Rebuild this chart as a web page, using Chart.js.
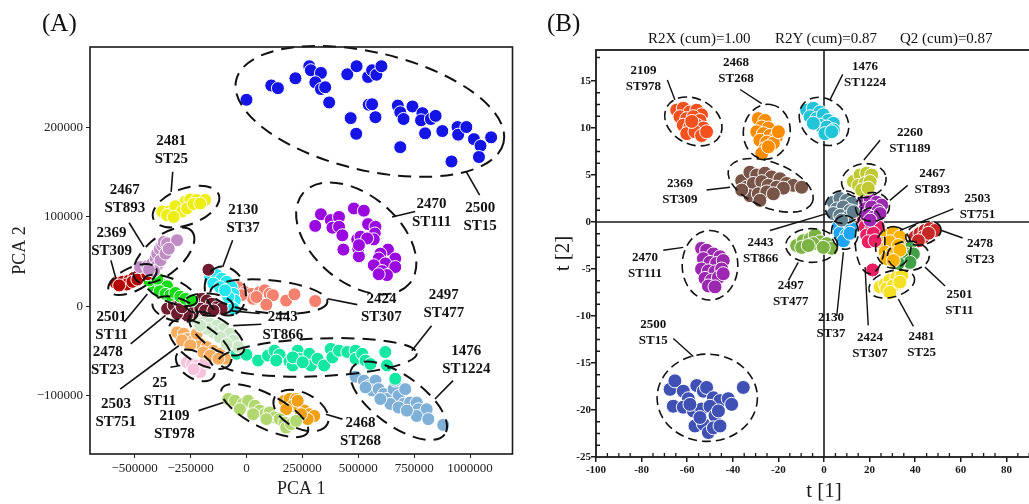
<!DOCTYPE html>
<html>
<head>
<meta charset="utf-8">
<script src="https://cdn.jsdelivr.net/npm/chart.js@4.4.1/dist/chart.umd.min.js"></script>
<style>
html, body { margin: 0; padding: 0; background: #fff; overflow: hidden; width: 1029px; height: 504px; }
.box { position: absolute; top: 0; }
.txt { position: absolute; font-family: "Liberation Serif", serif; color: #111; white-space: nowrap; }
.panel { font-size: 25px; line-height: 28px; }
.head { font-size: 15px; line-height: 18px; top: 29px; }
</style>
</head>
<body>
<div class="box" style="left:0;width:520px;height:504px"><canvas id="chartA" width="520" height="504"></canvas></div>
<div class="box" style="left:520px;width:560px;height:504px"><canvas id="chartB" width="560" height="504"></canvas></div>
<div class="txt panel" style="left:42px;top:9px">(A)</div>
<div class="txt panel" style="left:547px;top:9px">(B)</div>
<div class="txt head" style="left:648px">R2X (cum)=1.00</div>
<div class="txt head" style="left:775px">R2Y (cum)=0.87</div>
<div class="txt head" style="left:900px">Q2 (cum)=0.87</div>
<script>
// ---------- panel A: PCA scores (x = PCA 1, y = PCA 2) ----------
let pcaST15 = [[0,231000],[111000,247000],[140500,244000],[219000,255000],[281000,268500],[288000,264000],[333000,261000],[308000,250500],[333000,243000],[352000,245000],[370000,228000],[451000,259500],[492500,268500],[544000,256500],[562000,264000],[581000,259000],[603500,268500],[466000,210500],[491000,193000],[547000,225500],[562000,226000],[577000,211500],[677000,224500],[688000,217000],[702500,209500],[688000,178000],[742500,223500],[787000,216000],[781000,208000],[799000,193500],[825000,209500],[846000,213000],[876000,196000],[944000,200500],[947000,192000],[983500,200500],[1017500,187000],[1047000,179500],[1040000,167000],[917000,162000],[1094500,189000]];
let pcaST111 = [[333000,103000],[307500,90000],[377000,96500],[414000,100000],[384500,88000],[414000,89000],[429000,79500],[480500,109500],[525000,107000],[433500,63500],[500000,64500],[495500,75000],[510000,78000],[544000,92000],[577000,89000],[574000,81500],[569500,75000],[503000,56000],[540000,76000],[633000,63500],[599000,59000],[665500,53500],[591500,53500],[621000,48000],[569500,46000],[665500,44000],[606500,39500],[628500,35000],[591500,36000],[503000,68500]];
let pcaST25 = [[-377000,106000],[-340000,107000],[-310500,104000],[-296000,113000],[-273500,117000],[-251500,119500],[-222000,119000],[-185000,119000],[-318000,112000],[-288500,106000],[-266000,109500],[-236500,114500],[-355000,102000],[-325500,100000],[-207000,115000]];
let pcaST893 = [[-476000,44000],[-443500,45000],[-421500,48000],[-406500,53500],[-399000,59000],[-387500,64500],[-377000,68500],[-370000,72000],[-355000,70500],[-310500,74000],[-399000,46000],[-384500,51500],[-362500,59000],[-347500,64500],[-414000,39500],[-436000,41000]];
let pcaST309 = [[-584000,26000],[-554500,27500],[-525000,29000],[-503000,32000],[-481000,35000],[-458500,38500],[-535500,24500],[-510000,27500],[-488000,30000],[-443500,36000],[-569500,23500]];
let pcaST11a = [[-414000,23500],[-384500,25500],[-355000,22500],[-387500,17000],[-362500,14000],[-340000,12500],[-318000,15000],[-296000,11000],[-273500,8500],[-244000,6500],[-436000,29000],[-399000,31000]];
let pcaST23 = [[-355000,-2500],[-325500,1000],[-296000,3000],[-273500,-4500],[-251500,-1000],[-222000,5000],[-199500,8500],[-177500,6500],[-155500,3000],[-133000,-1000],[-111000,-2500],[-236500,-6500],[-207000,-2500],[-266000,-10000],[-310500,-8000],[-288500,-1000],[-185000,-4500],[-148000,-4500],[-170000,41000]];
let pcaST37 = [[-162500,33000],[-133000,35000],[-111000,31000],[-89000,27500],[-66500,21500],[-59000,14000],[-52000,6500],[-74000,1000],[-59000,-2500],[-148000,25500],[-118500,21500],[-81500,10500],[-96000,18000]];
let pcaST307 = [[-111000,18000],[-74000,20000],[-37000,21500],[-7500,16000],[22000,14000],[29500,8500],[59000,16000],[81500,18000],[103500,14000],[118500,12500],[89000,2000],[177500,6500],[214500,13500],[307500,6000],[-59000,10500],[-22000,12500],[44500,10500]];
let pcaST866 = [[-222000,-15500],[-192500,-17500],[-162500,-19500],[-133000,-21500],[-103500,-25000],[-74000,-30500],[-59000,-38000],[-37000,-45500],[-148000,-29000],[-118500,-34500],[-89000,-42000],[-177500,-25000],[-207000,-21500]];
let pcaST751 = [[-310500,-29000],[-281000,-30500],[-266000,-36500],[-236500,-38000],[-207000,-42000],[-177500,-45500],[-148000,-49500],[-118500,-53000],[-96000,-58500],[-288500,-38000],[-251500,-43500],[-192500,-51500],[-162500,-55000],[-125500,-58500],[-222000,-30500]];
let pcaST11b = [[-266000,-62500],[-244000,-64500],[-222000,-66000],[-199500,-68000],[-207000,-73500],[-236500,-70000],[-185000,-62500]];
let pcaST477 = [[-44500,-53000],[0,-54000],[52000,-60500],[96000,-55000],[125500,-49500],[148000,-54000],[133000,-60500],[192500,-61500],[207000,-66000],[229000,-49500],[236500,-58500],[281000,-53000],[288500,-66000],[318000,-58500],[347500,-66000],[377000,-47500],[384500,-57000],[414000,-49500],[451000,-51000],[488000,-49500],[488000,-58500],[517500,-53000],[532500,-60500],[554500,-64500],[621000,-51000],[628500,-66000],[665500,-81000],[207000,-57000],[251500,-62500]];
let pcaST1224 = [[488000,-78500],[525000,-83000],[547000,-88500],[577000,-83000],[562000,-94000],[591500,-92500],[614000,-98000],[628500,-103500],[658000,-92500],[665500,-83000],[680500,-100000],[710000,-92500],[702500,-109000],[732000,-107500],[761500,-107500],[769000,-115000],[806000,-115000],[761500,-122500],[813500,-126000],[880000,-132500],[532500,-90500],[643500,-109000],[680500,-113000],[717500,-116500],[599000,-103500]];
let pcaST978 = [[-81500,-103500],[-52000,-105500],[-15000,-109000],[7500,-105500],[37000,-111000],[59000,-116500],[81500,-120500],[103500,-118500],[125500,-124000],[148000,-126000],[170000,-130000],[177500,-135500],[199500,-131500],[222000,-128000],[-29500,-115000],[29500,-120500],[89000,-126000]];
let pcaST268 = [[170000,-105500],[192500,-103500],[222000,-103500],[207000,-111000],[236500,-113000],[259000,-116500],[281000,-120500],[303000,-122500],[273500,-126000],[177500,-115000],[244000,-120500],[229000,-105500]];

let pcaGroups = ['2500','2470','2481','2467','2369','2501','2478','2130','2424','2443','2503','25','2497','1476','2109','2468'];
let pcaSeries = [pcaST15, pcaST111, pcaST25, pcaST893, pcaST309, pcaST11a, pcaST23, pcaST37, pcaST307, pcaST866, pcaST751, pcaST11b, pcaST477, pcaST1224, pcaST978, pcaST268];
let pcaColors = ['#1414e6','#9a0ae0','#eeee12','#c08cc6','#b40404','#16de16','#6e1c2e','#22e6f0','#f4806e','#cbe7c6','#f8ac5e','#f7c2dc','#12e8a2','#7eb0d8','#b0d86e','#f0a012'];
let pcaXTicks = [-500000, -250000, 0, 250000, 500000, 750000, 1000000];
let pcaYTicks = [-100000, 0, 100000, 200000];

// ellipses: centre x, centre y, end of long axis x, y, short/long ratio
let pcaRings = [[552000,218000,1150000,183000,0.43],[491000,76000,729000,25400,0.62],[-270500,111500,-124000,125000,0.52],[-370000,57000,-244000,84000,0.5],[-510000,30000,-404000,42500,0.45],[-340000,18000,-222000,5000,0.4],[-320000,-3000,-220000,-10000,0.5],[-170000,2000,-60000,0,0.45],[-94700,17200,-56000,-9000,0.8],[100500,11000,362000,5000,0.28],[-133000,-30500,-15000,-51000,0.45],[-207000,-42000,-74000,-64500,0.5],[-229000,-66000,-148000,-79000,0.6],[318000,-57000,762000,-52500,0.19],[680500,-105500,887000,-143000,0.44],[81500,-116500,273500,-141000,0.35],[244000,-116500,362000,-131500,0.6]];
let pcaLeads = [[1043000,124500,983500,150500],[754500,106000,651000,100000],[-330000,150500,-337000,128000],[-525000,93500,-458500,66500],[-606500,51500,-584000,31000],[-62000,74000,-106500,44000],[495500,2000,362500,8500],[828000,-21500,739500,-49500],[-547000,-17500,-443500,14000],[59000,-8000,-66500,-5000],[66500,-20000,-59000,-21500],[-518000,-42000,-362500,-10000],[924000,-83000,843000,-103500],[-340000,-68000,-296000,-66000],[-565000,-92500,-303000,-44000],[-214500,-116500,-103500,-107500],[429000,-126000,355000,-120500]];
let pcaTags = [['2500','ST15',1045500,100000],['2470','ST111',828000,104500],['2481','ST25',-336000,175000],['2467','ST893',-544000,120000],['2369','ST309',-603500,72000],['2130','ST37',-15000,98000],['2424','ST307',603500,-1500],['2497','ST477',883000,2000],['2501','ST11',-603500,-21500],['2443','ST866',162500,-21500],['2478','ST23',-621000,-61500],['1476','ST1224',983500,-60000],['25','ST11',-387500,-96000],['2503','ST751',-584000,-119500],['2109','ST978',-322500,-132500],['2468','ST268',510000,-140000]];

// ---------- panel B: OPLS-DA scores (x = t[1], y = t[2]) ----------
let oplsST978 = [[-64.6,11.9],[-61.7,12.1],[-58.8,11.7],[-55.8,11.9],[-53.7,11.4],[-63.2,11.2],[-60.2,11.0],[-57.3,11.2],[-54.4,10.8],[-61.7,10.3],[-58.8,10.1],[-55.8,10.3],[-52.9,10.0],[-60.2,9.4],[-56.6,9.6],[-53.7,9.2],[-51.5,9.6],[-58.0,10.7]];
let oplsST268 = [[-28.8,11.0],[-25.9,10.8],[-27.3,10.1],[-24.4,10.0],[-29.5,9.6],[-26.6,9.4],[-23.7,9.2],[-20.8,9.1],[-28.1,8.7],[-25.1,8.5],[-22.2,8.4],[-25.9,7.8],[-27.3,7.3],[-24.4,8.0],[-20.0,9.6]];
let oplsST1224 = [[-7.6,11.9],[-4.7,12.1],[-1.75,11.7],[-6.1,11.2],[-3.2,11.0],[-0.3,11.4],[1.9,10.8],[4.1,10.5],[-1.75,10.3],[1.2,10.1],[4.1,9.8],[0.4,9.4],[3.4,9.6],[-4.7,10.5]];
let oplsST309 = [[-36.1,4.4],[-32.5,5.3],[-29.5,5.0],[-25.9,5.2],[-23.0,4.8],[-19.3,4.6],[-16.4,4.1],[-13.5,3.9],[-9.8,3.7],[-33.9,3.7],[-31.0,4.1],[-27.3,4.3],[-24.4,3.9],[-20.8,3.7],[-17.8,3.6],[-32.5,2.8],[-28.8,3.0],[-25.1,3.2],[-28.1,2.3],[-22.2,3.0],[-36.1,3.4]];
let oplsST1189 = [[12.9,4.3],[15.8,5.0],[18.7,5.2],[20.9,5.0],[15.1,3.9],[18.0,4.1],[20.2,4.3],[16.5,3.4],[19.4,3.6]];
let oplsST866 = [[4.1,2.1],[7.0,2.5],[9.9,2.3],[12.1,2.0],[5.6,1.4],[8.5,1.6],[11.4,1.2],[4.1,0.9],[7.0,0.7],[10.7,0.5],[12.9,1.1],[7.7,0.2]];
let oplsST893 = [[17.3,2.3],[20.2,2.5],[23.1,2.1],[25.3,1.8],[18.0,1.4],[20.9,1.6],[23.8,1.2],[18.7,0.7],[21.6,0.5],[24.6,0.9],[20.2,0.2]];
let oplsST37 = [[6.3,-0.5],[9.2,-0.4],[12.1,-0.7],[7.0,-1.2],[9.9,-1.4],[8.5,-2.0],[11.4,-1.2]];
let oplsST307 = [[17.3,0.4],[20.2,0.5],[23.1,0.2],[18.0,-0.5],[20.9,-0.7],[23.8,-0.5],[18.7,-1.4],[21.6,-1.2],[19.4,-2.1],[22.4,-2.0],[21.3,-5.1]];
let oplsST477 = [[-12.0,-2.5],[-9.1,-2.0],[-6.1,-1.8],[-3.9,-1.4],[-1.75,-2.1],[1.2,-2.3],[3.4,-2.8],[-9.8,-2.7],[-4.7,-2.3],[-0.3,-2.7],[-6.9,-2.5]];
let oplsST751 = [[27.5,-1.4],[30.4,-1.2],[33.3,-1.6],[26.0,-2.3],[28.9,-2.1],[32.6,-2.5],[26.8,-3.2],[29.7,-3.4],[33.3,-3.0],[27.5,-3.9],[30.4,-4.1]];
let oplsST11 = [[28.9,-1.2],[34.8,-2.5],[37.7,-2.8],[36.3,-3.4],[39.2,-3.4],[34.8,-3.9],[37.7,-4.3],[32.6,-4.4]];
let oplsST23 = [[39.9,-1.6],[42.1,-1.2],[44.3,-0.9],[46.5,-0.7],[48.7,-0.9],[43.6,-1.6],[45.8,-1.2],[41.4,-2.0]];
let oplsST25 = [[24.6,-6.9],[26.8,-6.6],[28.9,-6.2],[31.9,-5.9],[34.1,-5.7],[27.5,-7.1],[30.4,-6.8],[33.3,-6.4],[28.9,-7.5]];
let oplsST111 = [[-53.7,-2.8],[-51.5,-3.0],[-48.5,-3.4],[-45.6,-3.7],[-52.9,-3.9],[-50.0,-4.3],[-47.1,-4.4],[-44.2,-4.1],[-53.7,-5.0],[-50.7,-5.2],[-47.8,-5.3],[-44.9,-5.0],[-52.2,-6.0],[-49.3,-6.2],[-46.3,-5.9],[-50.7,-6.8],[-47.8,-6.9],[-44.2,-5.5]];
let oplsST15 = [[-67.5,-17.8],[-65.4,-16.9],[-61.7,-18.0],[-59.5,-18.8],[-55.8,-17.4],[-52.9,-18.0],[-51.5,-17.6],[-48.5,-18.7],[-45.6,-19.0],[-42.0,-18.8],[-40.5,-19.4],[-35.4,-17.6],[-66.1,-19.6],[-61.7,-19.7],[-57.3,-20.1],[-53.7,-19.9],[-50.0,-19.6],[-47.8,-20.6],[-46.3,-20.1],[-56.6,-21.7],[-52.9,-21.5],[-50.7,-22.4],[-48.5,-21.9],[-45.6,-21.7],[-54.4,-20.8],[-58.8,-19.4]];

let oplsGroups = ['2109','2468','1476','2369','2260','2443','2467','2130','2424','2497','2503','2501','2478','2481','2470','2500'];
let oplsSeries = [oplsST978, oplsST268, oplsST1224, oplsST309, oplsST1189, oplsST866, oplsST893, oplsST37, oplsST307, oplsST477, oplsST751, oplsST11, oplsST23, oplsST25, oplsST111, oplsST15];
let oplsColors = ['#f4511e','#fb8c00','#22c4da','#795548','#c0ca33','#607d8b','#9c27b0','#1fa6f2','#e91e63','#7cb342','#ffb300','#43a047','#c62828','#f6e024','#9c27b0','#3f51b5'];
let oplsXTicks = [-100, -80, -60, -40, -20, 0, 20, 40, 60, 80, 100];
let oplsYTicks = [-25, -20, -15, -10, -5, 0, 5, 10, 15];

let oplsRings = [[-57.3,10.7,-45.6,9.2,0.75],[-25.1,9.6,-23.4,12.5,0.85],[0,10.7,8.9,8.8,0.8],[-23.4,3.9,-5.1,2.1,0.5],[17.5,4.4,27.2,4.8,0.75],[8.5,1.6,16.5,1.6,0.9],[21.3,1.6,28.7,1.8,0.85],[9.2,-1.1,9.2,0.7,0.8],[20.2,-2.0,20.2,-5.5,0.45],[-5.4,-2.5,6.0,-2.5,0.65],[30.4,-2.7,31.1,-0.5,0.85],[37,-3.6,46.2,-3.6,0.7],[43.6,-1.2,51.2,-0.6,0.6],[29.7,-6.6,39.6,-5.9,0.55],[-50,-4.6,-50,-0.9,0.8],[-51.2,-18.7,-29.2,-18.7,0.87]];
let oplsLeads = [[-68.7,15.1,-65.4,13.0],[-36.8,14.1,-27.3,12.6],[8.2,15.7,2.6,13.0],[24.6,8.7,17.5,6.6],[36.7,3.9,28.9,2.3],[56.7,1.4,33.3,-0.9],[60.8,-1.7,51.6,-0.9],[53.1,-6.8,44.3,-4.8],[39.2,-11.1,32.6,-8.2],[19.4,-11.0,18.0,-4.8],[5.6,-10.0,8.5,-3.2],[-15.6,-6.2,-11.3,-4.3],[-23.7,-0.9,1.2,0.9],[-70.5,-3.0,-61.7,-2.7],[-51.5,3.4,-41.2,3.7],[-66.1,-12.4,-57.3,-14.3]];
let oplsTags = [['2109','ST978',-79.2,15.2],['2468','ST268',-38.6,16.1],['1476','ST1224',18.0,15.7],['2260','ST1189',37.7,8.7],['2467','ST893',47.5,4.3],['2503','ST751',67.3,1.6],['2478','ST23',68.4,-3.2],['2501','ST11',59.4,-8.6],['2481','ST25',42.8,-13.0],['2424','ST307',20.2,-13.2],['2130','ST37',3.1,-11.0],['2497','ST477',-14.6,-7.6],['2443','ST866',-27.8,-3.0],['2470','ST111',-78.5,-4.6],['2369','ST309',-63.2,3.2],['2500','ST15',-74.9,-11.8]];

const SERIF = '"Liberation Serif", "Times New Roman", serif';

// draws group ellipses, leader lines, group labels, frame and (B) the zero axes
const overlay = {
  id: 'overlay',
  beforeDatasetsDraw(chart, args, o) {
    if (!o.zero) return;
    const ctx = chart.ctx, ca = chart.chartArea;
    const x0 = chart.scales.x.getPixelForValue(0), y0 = chart.scales.y.getPixelForValue(0);
    ctx.save();
    ctx.strokeStyle = '#1a1a1a';
    ctx.lineWidth = 1.6;
    ctx.beginPath();
    ctx.moveTo(x0, ca.top); ctx.lineTo(x0, ca.bottom);
    ctx.moveTo(ca.left, y0); ctx.lineTo(ca.right, y0);
    ctx.stroke();
    ctx.restore();
  },
  afterDatasetsDraw(chart, args, o) {
    const ctx = chart.ctx, ca = chart.chartArea;
    const xs = chart.scales.x, ys = chart.scales.y;
    const px = v => xs.getPixelForValue(v), py = v => ys.getPixelForValue(v);
    ctx.save();
    ctx.strokeStyle = '#111';
    ctx.lineWidth = o.ringWidth;
    ctx.setLineDash(o.dash);
    o.rings.forEach(r => {
      const cx = px(r[0]), cy = py(r[1]), ex = px(r[2]), ey = py(r[3]);
      const a = Math.hypot(ex - cx, ey - cy);
      ctx.beginPath();
      ctx.ellipse(cx, cy, a, a * r[4], Math.atan2(ey - cy, ex - cx), 0, Math.PI * 2);
      ctx.stroke();
    });
    ctx.setLineDash([]);
    ctx.lineWidth = o.leadWidth;
    o.leads.forEach(l => {
      ctx.beginPath();
      ctx.moveTo(px(l[0]), py(l[1]));
      ctx.lineTo(px(l[2]), py(l[3]));
      ctx.stroke();
    });
    ctx.fillStyle = '#111';
    ctx.font = o.font;
    ctx.textAlign = 'center';
    ctx.textBaseline = 'middle';
    o.tags.forEach(t => {
      ctx.fillText(t[0], px(t[2]), py(t[3]) - o.lineH / 2);
      ctx.fillText(t[1], px(t[2]), py(t[3]) + o.lineH / 2);
    });
    // frame
    ctx.lineWidth = o.frameWidth;
    ctx.strokeStyle = '#1a1a1a';
    ctx.strokeRect(ca.left, ca.top, ca.right - ca.left, ca.bottom - ca.top);
    // minor ticks pointing inwards
    if (o.minor) {
      ctx.lineWidth = 1.3;
      ctx.beginPath();
      const xt = xs.ticks.map(t => t.value), yt = ys.ticks.map(t => t.value);
      for (let i = 0; i < xt.length - 1; i++) {
        for (let k = 1; k < 4; k++) {
          const x = px(xt[i] + (xt[i + 1] - xt[i]) * k / 4);
          ctx.moveTo(x, ca.bottom); ctx.lineTo(x, ca.bottom - 4);
        }
      }
      for (let i = 0; i < yt.length - 1; i++) {
        for (let k = 1; k < 4; k++) {
          const y = py(yt[i] + (yt[i + 1] - yt[i]) * k / 4);
          ctx.moveTo(ca.left, y); ctx.lineTo(ca.left + 4, y);
        }
      }
      const top = yt[yt.length - 1] + (yt[1] - yt[0]) / 4 * 2;
      ctx.moveTo(ca.left, py(top)); ctx.lineTo(ca.left + 4, py(top));
      ctx.stroke();
    }
    ctx.restore();
  }
};

function makeSets(series, colors, groups, r) {
  return series.map((pts, i) => ({
    label: groups[i],
    data: pts.map(p => ({ x: p[0], y: p[1] })),
    backgroundColor: colors[i],
    borderColor: '#ffffff',
    borderWidth: 1,
    pointRadius: r
  }));
}

const minus = v => (v < 0 ? '\u2212' + Math.abs(v) : String(v));
const useTicks = list => scale => { scale.ticks = list.map(v => ({ value: v })); };

new Chart(document.getElementById('chartA'), {
  type: 'scatter',
  data: { datasets: makeSets(pcaSeries, pcaColors, pcaGroups, 6.5) },
  options: {
    responsive: false,
    animation: false,
    layout: { padding: { top: 47, right: 5, left: 0, bottom: 0 } },
    plugins: {
      legend: { display: false },
      tooltip: { enabled: false },
      overlay: {
        rings: pcaRings, leads: pcaLeads, tags: pcaTags,
        dash: [13, 8], ringWidth: 2, leadWidth: 1.6, frameWidth: 1.6,
        font: 'bold 15px ' + SERIF, lineH: 18, zero: false, minor: false
      }
    },
    scales: {
      x: {
        type: 'linear', min: -700000, max: 1190000,
        afterBuildTicks: useTicks(pcaXTicks),
        afterFit: s => { s.height = 50; },
        grid: { display: true, drawOnChartArea: false, tickLength: 4, color: '#222' },
        border: { display: false },
        ticks: { autoSkip: false, maxRotation: 0, padding: 3, color: '#222', font: { family: SERIF, size: 13 }, callback: v => minus(v) },
        title: { display: true, text: 'PCA 1', color: '#222', font: { family: SERIF, size: 18 }, padding: { top: 0, bottom: 4 } }
      },
      y: {
        type: 'linear', min: -165000, max: 290000,
        afterBuildTicks: useTicks(pcaYTicks),
        afterFit: s => { s.width = 90; },
        grid: { display: true, drawOnChartArea: false, tickLength: 4, color: '#222' },
        border: { display: false },
        ticks: { autoSkip: false, padding: 3, color: '#222', font: { family: SERIF, size: 13 }, callback: v => minus(v) },
        title: { display: true, text: 'PCA 2', color: '#222', font: { family: SERIF, size: 18 }, padding: { top: 9, bottom: 0 } }
      }
    }
  },
  plugins: [overlay]
});

new Chart(document.getElementById('chartB'), {
  type: 'scatter',
  data: { datasets: makeSets(oplsSeries, oplsColors, oplsGroups, 7) },
  options: {
    responsive: false,
    animation: false,
    layout: { padding: { top: 50, right: 28, left: 0, bottom: 0 } },
    plugins: {
      legend: { display: false },
      tooltip: { enabled: false },
      overlay: {
        rings: oplsRings, leads: oplsLeads, tags: oplsTags,
        dash: [9, 5], ringWidth: 1.6, leadWidth: 1.4, frameWidth: 1.8,
        font: 'bold 13px ' + SERIF, lineH: 16, zero: true, minor: true
      }
    },
    scales: {
      x: {
        type: 'linear', min: -100, max: 100,
        afterBuildTicks: useTicks(oplsXTicks),
        afterFit: s => { s.height = 47; },
        grid: { display: true, drawOnChartArea: false, tickLength: 5, color: '#1a1a1a', lineWidth: 1.5 },
        border: { display: false },
        ticks: { autoSkip: false, maxRotation: 0, padding: 2, color: '#1a1a1a', font: { family: SERIF, size: 11, weight: 'bold' } },
        title: { display: true, text: 't [1]', color: '#1a1a1a', font: { family: SERIF, size: 21 }, padding: { top: 0, bottom: 0 } }
      },
      y: {
        type: 'linear', min: -25, max: 18.3,
        afterBuildTicks: useTicks(oplsYTicks),
        afterFit: s => { s.width = 76; },
        grid: { display: true, drawOnChartArea: false, tickLength: 5, color: '#1a1a1a', lineWidth: 1.5 },
        border: { display: false },
        ticks: { autoSkip: false, padding: 0, color: '#1a1a1a', font: { family: SERIF, size: 11, weight: 'bold' } },
        title: { display: true, text: 't [2]', color: '#1a1a1a', font: { family: SERIF, size: 21 }, padding: { top: 31, bottom: 0 } }
      }
    }
  },
  plugins: [overlay]
});
</script>
</body>
</html>
